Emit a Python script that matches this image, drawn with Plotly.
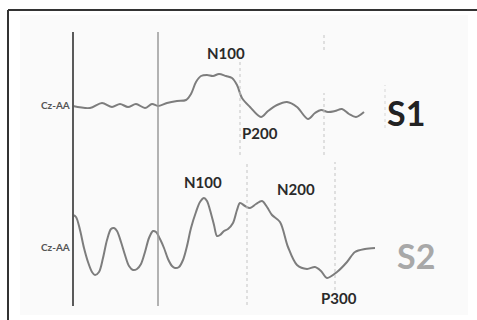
import plotly.graph_objects as go

# ---- data (time in ms, amplitude in µV; upward = N deflection as drawn) ----
s1_t = [-170, -136, -112, -92, -76, -60, -44, -26, -12, 0, 18, 38, 56, 66, 76, 86, 98, 110, 122, 136,
        148, 158, 168, 184, 206, 220, 238, 258, 278, 300, 314, 326, 340, 354, 368, 382, 396, 412]
s1_v = [0.0, -0.2, 0.3, -0.1, 0.2, -0.1, 0.2, -0.2, 0.2, 0.0, 0.3, 0.5, 0.6, 1.2, 2.4, 3.0, 3.1, 3.0, 3.2, 3.0,
        2.8, 2.1, 0.8, -0.1, -1.1, -0.5, 0.1, 0.4, -0.1, -1.3, -0.7, -0.4, -0.6, -0.5, -0.3, -0.8, -1.1, -0.6]

s2_t = [-170, -164, -156, -148, -140, -132, -126, -118, -110, -102, -94, -88, -82, -74, -66, -58, -50, -42,
        -34, -26, -18, -10, -4, 4, 12, 20, 28, 34, 42, 50, 58, 66, 76, 84, 92, 98, 104, 112, 118, 124,
        132, 140, 150, 158, 164, 174, 184, 196, 208, 218, 228, 244, 260, 278, 298, 314, 326, 338, 358,
        378, 394, 414, 434]
s2_v = [2.5, 2.3, 1.0, -0.8, -2.2, -3.2, -3.5, -3.2, -1.8, 0.0, 1.1, 1.2, 0.9, -0.2, -1.5, -2.6, -3.0, -2.9,
        -2.4, -1.2, 0.2, 0.9, 0.8, 0.1, -0.8, -1.9, -2.6, -2.8, -2.7, -2.0, -0.6, 1.2, 2.8, 3.8, 4.2, 3.9,
        3.0, 1.5, 0.4, 0.5, 0.9, 1.1, 1.7, 3.0, 3.7, 3.4, 3.2, 3.6, 3.9, 3.3, 2.5, 1.8, -0.7, -2.5, -2.9,
        -2.7, -3.1, -3.8, -3.2, -2.2, -1.2, -0.9, -0.8]

s1_labels = [("N100", 136, 5.3), ("P200", 204, -2.7)]
s2_labels = [("N100", 90, 5.8), ("N200", 276, 5.1), ("P300", 362, -5.8)]

W, H = 477, 320
FONT = "Lato"
TRACE = "#7d7d7d"

fig = go.Figure()
fig.add_trace(go.Scatter(x=s1_t, y=s1_v, mode="lines", yaxis="y",
                         line=dict(color=TRACE, width=2, shape="spline", smoothing=0.9),
                         hoverinfo="skip", showlegend=False))
fig.add_trace(go.Scatter(x=s2_t, y=s2_v, mode="lines", yaxis="y2",
                         line=dict(color=TRACE, width=2, shape="spline", smoothing=0.9),
                         hoverinfo="skip", showlegend=False))

def py(p):
    return 1 - p / H

shapes = []
# faint panel background
shapes.append(dict(type="rect", xref="paper", yref="paper", x0=20 / W, x1=468 / W, y0=py(315), y1=py(15),
                   fillcolor="#fafafa", line=dict(width=0), layer="below"))
# frame (top + left)
shapes.append(dict(type="line", xref="paper", yref="paper", x0=8 / W, x1=1, y0=py(10), y1=py(10),
                   line=dict(color="#333333", width=2)))
shapes.append(dict(type="line", xref="paper", yref="paper", x0=8 / W, x1=8 / W, y0=py(10), y1=0,
                   line=dict(color="#333333", width=2)))
# solid markers
shapes.append(dict(type="line", xref="x", yref="paper", x0=-170, x1=-170, y0=py(306), y1=py(32),
                   line=dict(color="#5a5a5a", width=2)))
shapes.append(dict(type="line", xref="x", yref="paper", x0=0, x1=0, y0=py(306), y1=py(32),
                   line=dict(color="#9a9a9a", width=1.5)))
# dotted latency markers
for t, a, b, c in [(164, 55, 155, "#c4c4c4"), (178, 162, 305, "#c4c4c4"), (332, 33, 50, "#c4c4c4"),
                   (332, 93, 155, "#c4c4c4"), (354, 162, 290, "#c4c4c4"), (454, 85, 128, "#d6d6d6")]:
    shapes.append(dict(type="line", xref="x", yref="paper", x0=t, x1=t, y0=py(b), y1=py(a),
                       line=dict(color=c, width=1, dash="dot")))

ann = []
for txt, x, y in s1_labels:
    ann.append(dict(text=txt, x=x, y=y, xref="x", yref="y", showarrow=False,
                    font=dict(family=FONT, size=15, color="#2a2a2a", weight="bold")))
for txt, x, y in s2_labels:
    ann.append(dict(text=txt, x=x, y=y, xref="x", yref="y2", showarrow=False,
                    font=dict(family=FONT, size=15, color="#2a2a2a", weight="bold")))
ann.append(dict(text="S1", x=496, y=-0.6, xref="x", yref="y", showarrow=False,
                font=dict(family=FONT, size=34, color="#222222", weight="bold")))
ann.append(dict(text="S2", x=516, y=-1.5, xref="x", yref="y2", showarrow=False,
                font=dict(family=FONT, size=34, color="#a8a8a8", weight="bold")))
ann.append(dict(text="Cz-AA", x=-172, y=0.1, xref="x", yref="y", showarrow=False, xanchor="right",
                font=dict(family=FONT, size=10, color="#555555", weight="bold")))
ann.append(dict(text="Cz-AA", x=-172, y=-0.7, xref="x", yref="y2", showarrow=False, xanchor="right",
                font=dict(family=FONT, size=10, color="#555555", weight="bold")))

fig.update_layout(
    width=W, height=H, margin=dict(l=0, r=0, t=0, b=0),
    paper_bgcolor="white", plot_bgcolor="rgba(0,0,0,0)",
    xaxis=dict(range=[-316, 638], visible=False, domain=[0, 1]),
    yaxis=dict(range=[-21.4, 10.6], visible=False, domain=[0, 1]),
    yaxis2=dict(range=[-8, 24], visible=False, overlaying="y"),
    shapes=shapes, annotations=ann,
)
fig.write_html("out.html")
